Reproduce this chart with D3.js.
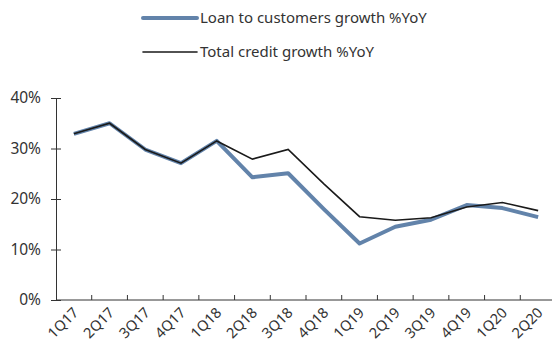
<!DOCTYPE html>
<html>
<head>
<meta charset="utf-8">
<script src="https://cdn.jsdelivr.net/npm/d3@7"></script>
<style>
  body { margin: 0; background: #fff; }
  text { font-family: "Noto Sans", sans-serif; fill: #333; }
</style>
</head>
<body>
<div id="main"></div>
<script>
// chart data
var quarters = ['1Q17', '2Q17', '3Q17', '4Q17', '1Q18', '2Q18', '3Q18', '4Q18',
  '1Q19', '2Q19', '3Q19', '4Q19', '1Q20', '2Q20'];
var loanGrowth = [32.9, 35.0, 29.8, 27.1, 31.5, 24.3, 25.1, 18.0, 11.2, 14.5, 15.9, 18.8, 18.2, 16.4];
var creditGrowth = [32.9, 35.0, 29.8, 27.1, 31.5, 27.9, 29.8, 23.0, 16.5, 15.8, 16.3, 18.4, 19.3, 17.7];
var yTicks = [0, 10, 20, 30, 40];
var seriesNames = ['Loan to customers growth %YoY', 'Total credit growth %YoY'];

var svgWidth = 552;
var svgHeight = 351;
var plot = { l: 56, r: 556, t: 98, b: 300 };

var svg = d3.select('#main')
  .append('svg')
  .attr('width', svgWidth)
  .attr('height', svgHeight);

var xScale = d3.scaleBand()
  .domain(quarters)
  .range([plot.l, plot.r]);

var yScale = d3.scaleLinear()
  .domain([0, 40])
  .range([plot.b, plot.t]);

// y axis
var yAxisG = svg.append('g')
  .attr('transform', 'translate(' + plot.l + ',0)')
  .call(d3.axisLeft(yScale).tickValues(yTicks).tickFormat((d) => d + '%').tickSize(5).tickSizeOuter(0));
yAxisG.select('.domain').attr('stroke', '#333');
yAxisG.selectAll('.tick line').attr('x2', 5).attr('x1', -5).attr('stroke', '#333');
yAxisG.selectAll('.tick text')
  .attr('x', -15)
  .style('font-size', '15.5px')
  .style('font-family', '"Noto Sans", sans-serif')
  .attr('fill', '#333');

// x axis (ticks on band edges, pointing up)
var xAxisG = svg.append('g');
xAxisG.append('line')
  .attr('x1', plot.l).attr('x2', svgWidth)
  .attr('y1', plot.b).attr('y2', plot.b)
  .attr('stroke', '#333');
xAxisG.selectAll('.xtick')
  .data(quarters.slice(1))
  .enter()
  .append('line')
  .attr('x1', (d) => xScale(d))
  .attr('x2', (d) => xScale(d))
  .attr('y1', plot.b)
  .attr('y2', plot.b - 5)
  .attr('stroke', '#333');
xAxisG.selectAll('.xlabel')
  .data(quarters)
  .enter()
  .append('text')
  .attr('transform', (d) => 'translate(' + [xScale(d) + xScale.bandwidth() / 2 + 2, plot.b + 10] + ') rotate(-45)')
  .attr('text-anchor', 'end')
  .attr('dy', '0.35em')
  .style('font-size', '14.5px')
  .text((d) => d);

// lines
var line = d3.line()
  .x((d, i) => xScale(quarters[i]) + xScale.bandwidth() / 2)
  .y((d) => yScale(d));

svg.append('path')
  .datum(loanGrowth)
  .attr('fill', 'none')
  .attr('stroke', '#6283aa')
  .attr('stroke-width', 4)
  .attr('stroke-linejoin', 'round')
  .attr('d', line);

svg.append('path')
  .datum(creditGrowth)
  .attr('fill', 'none')
  .attr('stroke', '#1a1a1a')
  .attr('stroke-width', 1.6)
  .attr('d', line);

// legend
var legendColors = ['#6283aa', '#1a1a1a'];
var legendWidths = [4, 1.6];
var legendG = svg.append('g');
seriesNames.forEach((name, i) => {
  var y = 18 + i * 34;
  legendG.append('line')
    .attr('x1', 143).attr('x2', 197)
    .attr('y1', y).attr('y2', y)
    .attr('stroke', legendColors[i])
    .attr('stroke-width', legendWidths[i])
    .attr('stroke-linecap', 'round');
  legendG.append('text')
    .attr('x', 200)
    .attr('y', y)
    .attr('dy', '0.35em')
    .style('font-size', '15px')
    .text(name);
});
</script>
</body>
</html>
